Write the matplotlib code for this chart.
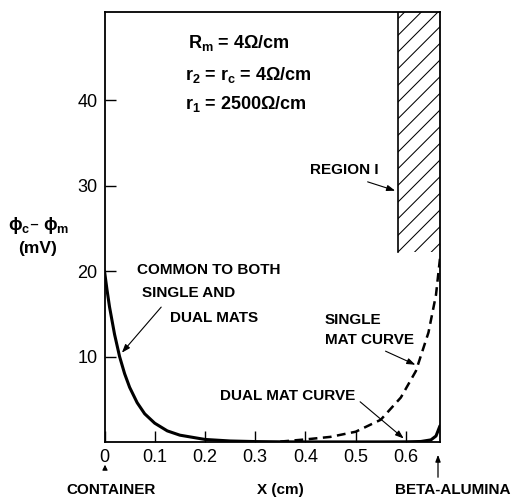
import matplotlib
matplotlib.use("Agg")
import matplotlib.pyplot as plt

# ---- data ----
x_dual = [0, 0.005, 0.01, 0.02, 0.03, 0.04, 0.05, 0.065, 0.08, 0.1, 0.125, 0.15,
          0.2, 0.25, 0.3, 0.35, 0.4, 0.45, 0.5, 0.55, 0.6, 0.63, 0.65, 0.66, 0.668]
y_dual = [20, 17.8, 15.8, 12.6, 10.0, 8.0, 6.4, 4.6, 3.3, 2.2, 1.3, 0.8,
          0.3, 0.12, 0.05, 0.02, 0.01, 0.01, 0.01, 0.01, 0.02, 0.06, 0.25, 0.7, 1.9]
x_single = [0.35, 0.4, 0.45, 0.5, 0.55, 0.59, 0.62, 0.645, 0.66, 0.668]
y_single = [0.05, 0.3, 0.6, 1.2, 2.6, 5.2, 8.3, 12.8, 17.2, 21.5]
region_x = [0.584, 0.668]
region_y = [22.2, 50.3]
xticks = [0, 0.1, 0.2, 0.3, 0.4, 0.5, 0.6]
xticklabels = ["0", "0.1", "0.2", "0.3", "0.4", "0.5", "0.6"]
yticks = [10, 20, 30, 40]
yticklabels = ["10", "20", "30", "40"]

fam = ["Liberation Sans", "DejaVu Sans"]
plt.rcParams['font.family'] = fam
plt.rcParams['hatch.linewidth'] = 0.75

W, H = 513, 503
fig = plt.figure(figsize=(W / 100, H / 100), dpi=100)
ax = fig.add_axes([104.5 / W, 1 - 442 / H, (440 - 104.5) / W, (442 - 12) / H])
ax.set_xlim(0, 0.668)
ax.set_ylim(0, 50.3)

ax.plot(x_dual, y_dual, color="black", lw=2.2, solid_capstyle="round")
ax.plot(x_single, y_single, color="black", lw=1.8, ls=(0, (3.5, 2.2)))

ax.fill_between(region_x, region_y[0], region_y[1], facecolor="none",
                edgecolor="black", hatch="//", linewidth=0)
ax.plot([region_x[0], region_x[0]], region_y, color="black", lw=1.2)

for s in ax.spines.values():
    s.set_linewidth(1.3)

ax.set_xticks(xticks)
ax.set_xticklabels(xticklabels)
ax.set_yticks(yticks)
ax.set_yticklabels(yticklabels)
ax.tick_params(direction="in", length=8, width=1.0, labelsize=13, pad=5)

tb = dict(fontweight="bold", fontsize=11)
arrow = dict(arrowstyle="-|>,head_length=0.5,head_width=0.18", color="black", lw=0.8)

def px(x, y):
    return (x / W, 1 - y / H)

# parameter block
fig.text(*px(188, 43), "R$_\\mathregular{m}$ = 4\u03a9/cm", fontsize=13, fontweight="bold", va="center")
fig.text(*px(185, 75), "r$_\\mathregular{2}$ = r$_\\mathregular{c}$ = 4\u03a9/cm", fontsize=13, fontweight="bold", va="center")
fig.text(*px(185, 104), "r$_\\mathregular{1}$ = 2500\u03a9/cm", fontsize=13, fontweight="bold", va="center")

# labels
fig.text(*px(310, 170), "REGION I", va="center", **tb)
ax.annotate("", xy=(0.584, 29.3), xycoords="data", xytext=px(365, 181),
            textcoords="figure fraction", arrowprops=arrow)

fig.text(*px(137, 270), "COMMON TO BOTH", va="center", **tb)
fig.text(*px(142, 293), "SINGLE AND", va="center", **tb)
fig.text(*px(170, 318), "DUAL MATS", va="center", **tb)
ax.annotate("", xy=(0.031, 10.2), xycoords="data", xytext=px(163, 305),
            textcoords="figure fraction", arrowprops=arrow)

fig.text(*px(325, 320), "SINGLE", va="center", **tb)
fig.text(*px(325, 340), "MAT CURVE", va="center", **tb)
ax.annotate("", xy=(0.624, 8.9), xycoords="data", xytext=px(383, 350),
            textcoords="figure fraction", arrowprops=arrow)

fig.text(*px(220, 396), "DUAL MAT CURVE", va="center", **tb)
ax.annotate("", xy=(0.6, 0.2), xycoords="data", xytext=px(358, 400),
            textcoords="figure fraction", arrowprops=arrow)

# axis labels
fig.text(*px(39, 225), "\u03d5$_\\mathregular{c}$\u2013 \u03d5$_\\mathregular{m}$", fontsize=13, fontweight="bold",
         ha="center", va="center")
fig.text(*px(38, 249), "(mV)", fontsize=12.5, fontweight="bold", ha="center", va="center")
fig.text(*px(280, 490), "X (cm)", va="center", ha="center", **tb)
fig.text(*px(111, 490), "CONTAINER", va="center", ha="center", **tb)
fig.text(*px(511, 490), "BETA-ALUMINA", va="center", ha="right", **tb)

fig.patches.append(matplotlib.patches.FancyArrowPatch(px(105, 472), px(105, 462),
                   transform=fig.transFigure, arrowstyle="-|>,head_length=3,head_width=1.5",
                   color="black", lw=0.8))
fig.patches.append(matplotlib.patches.FancyArrowPatch(px(438, 480), px(438, 452),
                   transform=fig.transFigure, arrowstyle="-|>,head_length=4,head_width=1.5",
                   color="black", lw=0.9))

fig.savefig("out.png", dpi=100)
